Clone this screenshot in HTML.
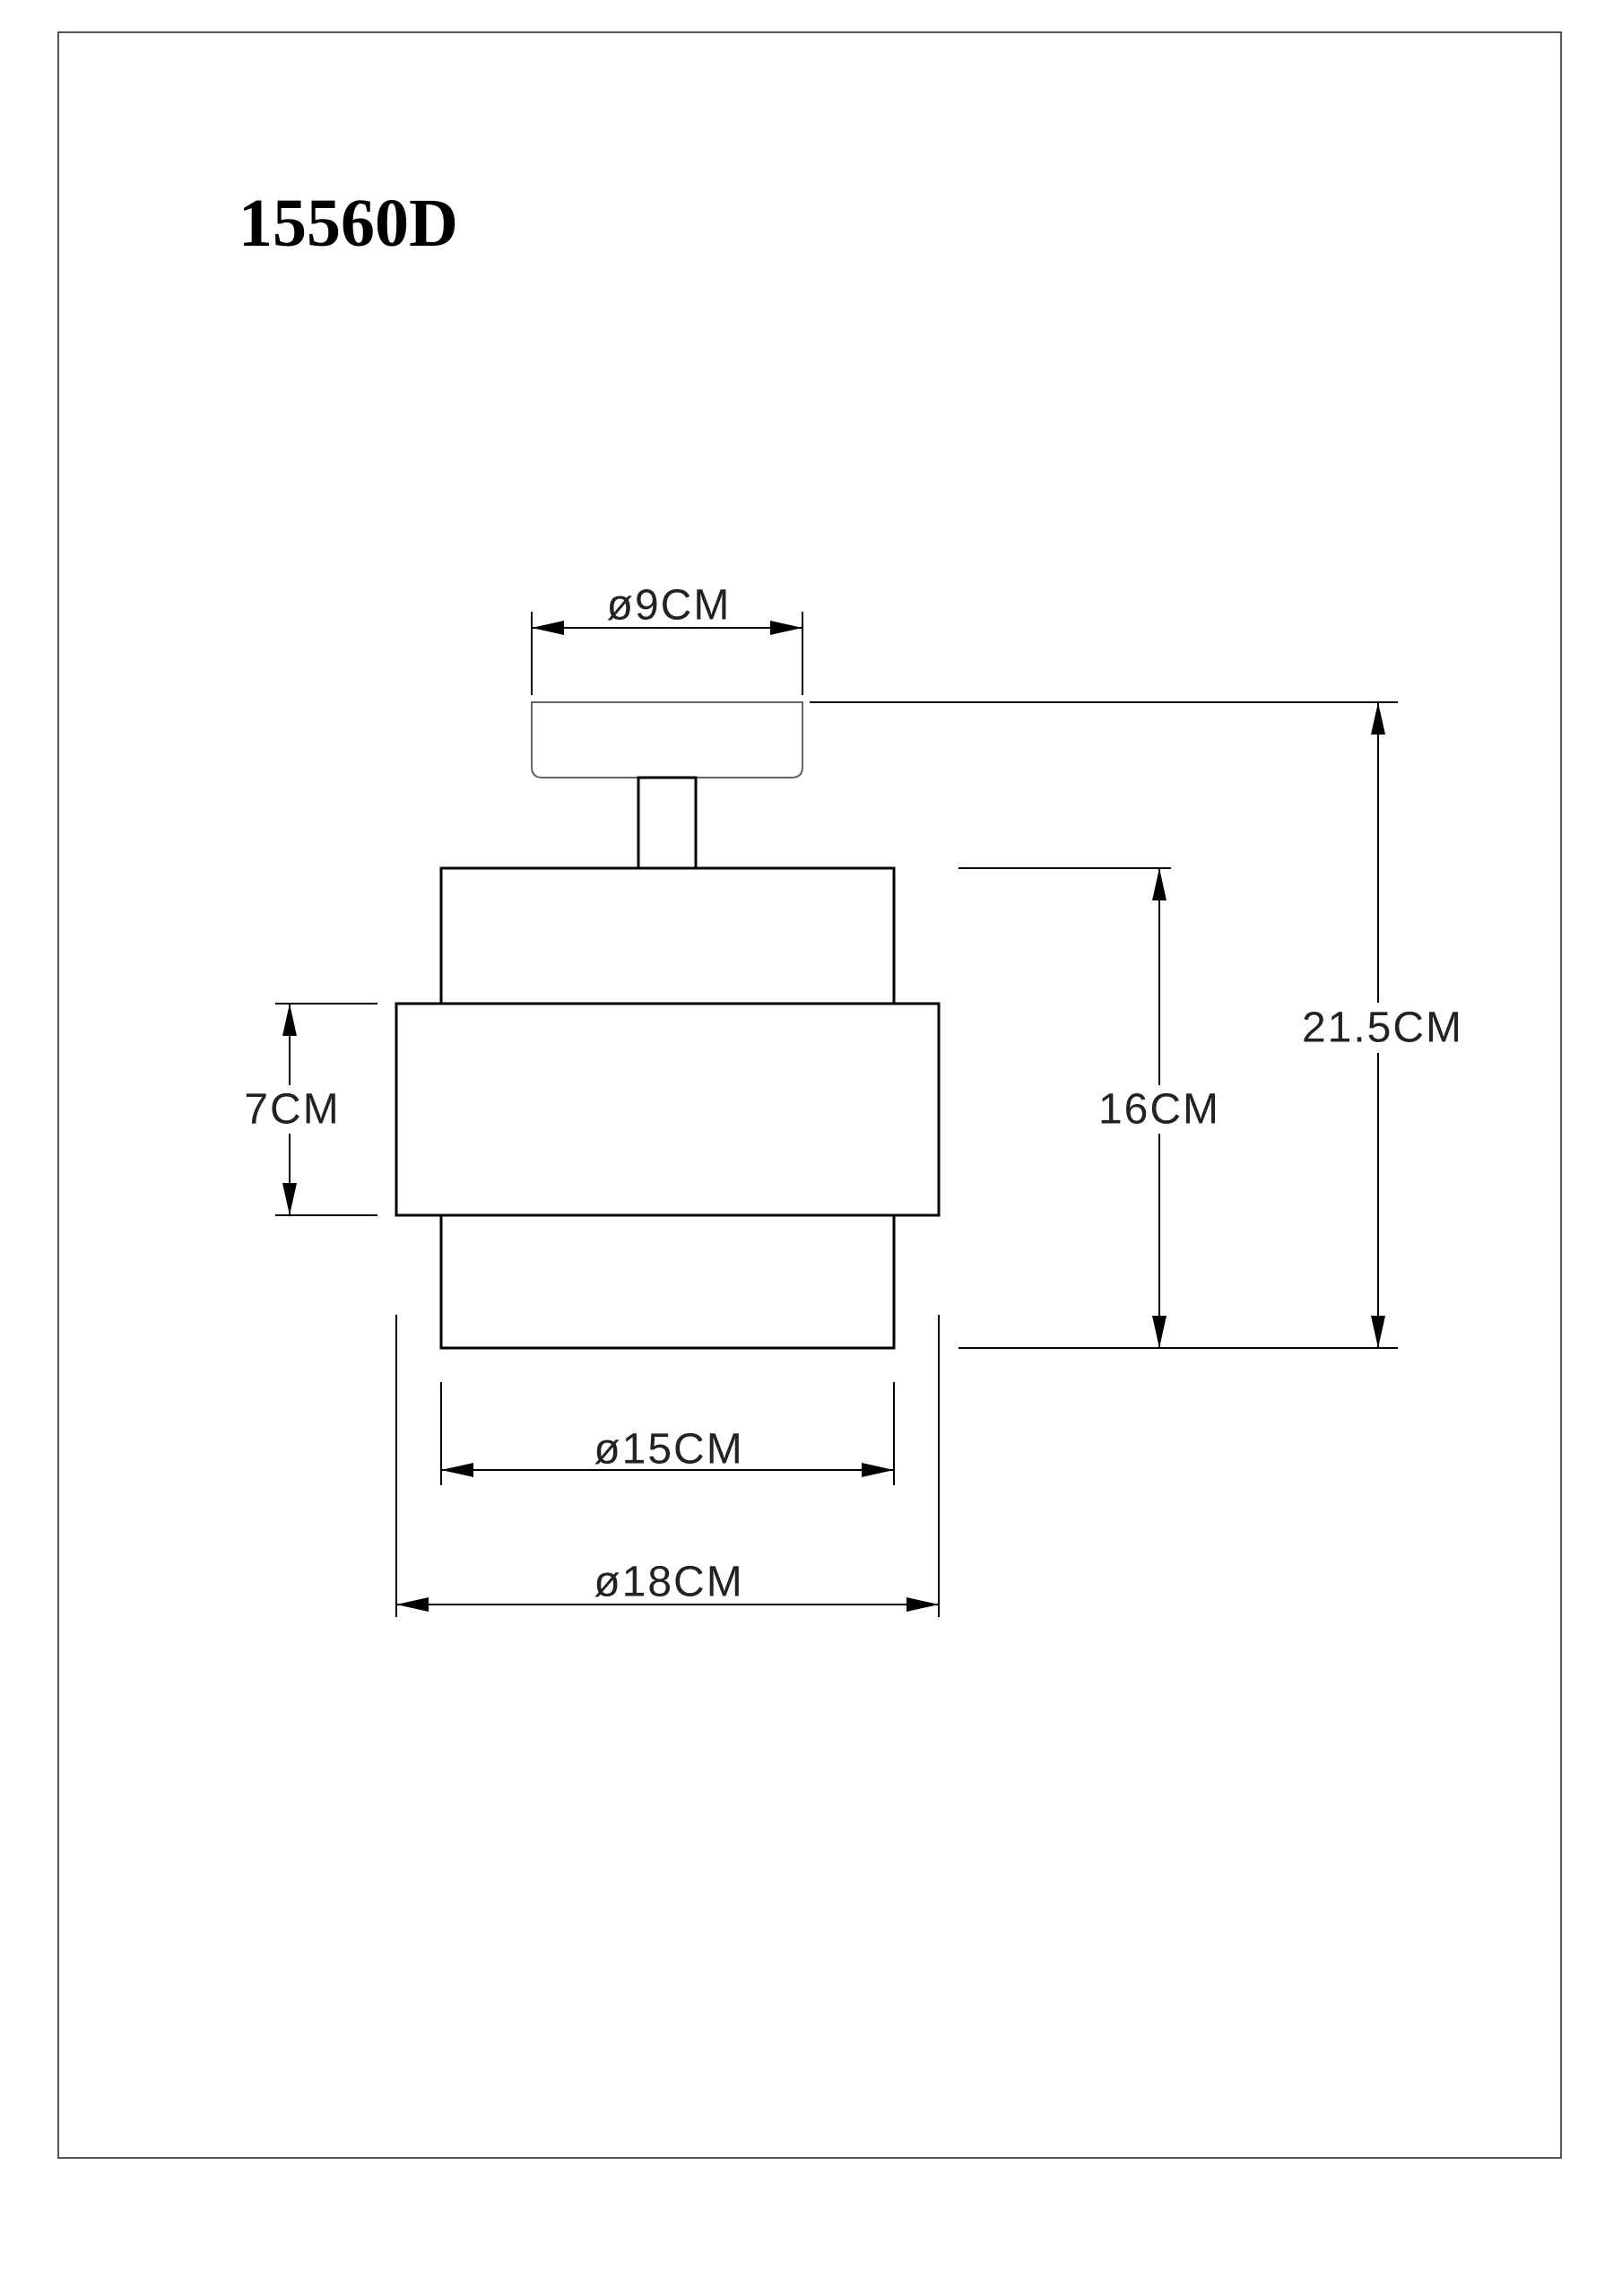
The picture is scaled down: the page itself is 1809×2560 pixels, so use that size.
<!DOCTYPE html>
<html><head><meta charset="utf-8"><style>
html,body{margin:0;padding:0;background:#fff}
svg{display:block}
text{font-family:"Liberation Sans",sans-serif;font-size:48px;fill:#222;text-anchor:middle;dominant-baseline:central;letter-spacing:2px}
</style></head><body>
<svg width="1809" height="2560" viewBox="0 0 1809 2560" xmlns="http://www.w3.org/2000/svg">
<defs>
<marker id="a" markerWidth="36" markerHeight="16" refX="36" refY="8" orient="auto" markerUnits="userSpaceOnUse">
<path d="M0,0 L36,8 L0,16 Z" fill="#000"/></marker>
</defs>
<rect x="65" y="36" width="1676" height="2370" fill="none" stroke="#555" stroke-width="2"/>
<text x="266" y="274" style="font-family:'Liberation Serif',serif;font-weight:bold;font-size:76px;text-anchor:start;dominant-baseline:auto;fill:#000;letter-spacing:0">15560D</text>
<g stroke="#000" stroke-width="3" fill="none">
<path d="M593,783 L895,783 L895,855 Q895,867 883,867 L605,867 Q593,867 593,855 Z" stroke="#666" stroke-width="2"/>
<rect x="712" y="867" width="64" height="101"/>
<rect x="492" y="968" width="505" height="151"/>
<rect x="442" y="1119" width="605" height="236"/>
<rect x="492" y="1355" width="505" height="148"/>
</g>
<g stroke="#000" stroke-width="2" fill="none">
<line x1="593" y1="682" x2="593" y2="775"/><line x1="895" y1="682" x2="895" y2="775"/>
<line x1="744" y1="700" x2="593" y2="700" marker-end="url(#a)"/><line x1="744" y1="700" x2="895" y2="700" marker-end="url(#a)"/>
<line x1="903" y1="783" x2="1559" y2="783"/>
<line x1="1069" y1="1503" x2="1559" y2="1503"/>
<line x1="1537" y1="1143" x2="1537" y2="783" marker-end="url(#a)"/><line x1="1537" y1="1143" x2="1537" y2="1503" marker-end="url(#a)"/>
<line x1="1069" y1="968" x2="1306" y2="968"/>
<line x1="1293" y1="1237" x2="1293" y2="968" marker-end="url(#a)"/><line x1="1293" y1="1237" x2="1293" y2="1503" marker-end="url(#a)"/>
<line x1="307" y1="1119" x2="421" y2="1119"/><line x1="307" y1="1355" x2="421" y2="1355"/>
<line x1="323" y1="1237" x2="323" y2="1119" marker-end="url(#a)"/><line x1="323" y1="1237" x2="323" y2="1355" marker-end="url(#a)"/>
<line x1="492" y1="1541" x2="492" y2="1656"/><line x1="997" y1="1541" x2="997" y2="1656"/>
<line x1="744" y1="1639" x2="492" y2="1639" marker-end="url(#a)"/><line x1="744" y1="1639" x2="997" y2="1639" marker-end="url(#a)"/>
<line x1="442" y1="1466" x2="442" y2="1803"/><line x1="1047" y1="1466" x2="1047" y2="1803"/>
<line x1="744" y1="1789" x2="442" y2="1789" marker-end="url(#a)"/><line x1="744" y1="1789" x2="1047" y2="1789" marker-end="url(#a)"/>
</g>
<text x="746" y="675">ø9CM</text>
<rect x="1452" y="1118" width="180" height="56" fill="#fff"/>
<text x="1542" y="1146">21.5CM</text>
<rect x="1233" y="1210" width="120" height="54" fill="#fff"/>
<text x="1293" y="1237">16CM</text>
<rect x="274" y="1210" width="104" height="54" fill="#fff"/>
<text x="326" y="1237">7CM</text>
<text x="746" y="1616">ø15CM</text>
<text x="746" y="1764">ø18CM</text>
</svg>
</body></html>
